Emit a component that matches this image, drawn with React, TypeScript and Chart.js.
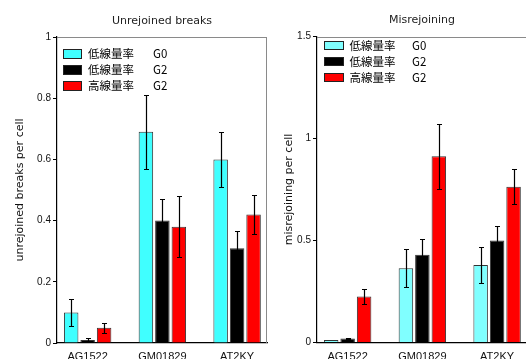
import React, { useEffect, useRef } from 'react';
import { Chart, registerables } from 'chart.js';

Chart.register(...registerables);

// ---------- data ----------
const categories = ['AG1522', 'GM01829', 'AT2KY'];
const seriesRate = ['低線量率', '低線量率', '高線量率'];
const seriesPhase = ['G0', 'G2', 'G2'];

// Unrejoined breaks per cell
const unrejoinedLowG0 = [0.10, 0.69, 0.60];
const unrejoinedLowG2 = [0.01, 0.40, 0.31];
const unrejoinedHighG2 = [0.05, 0.38, 0.42];
const unrejoinedLowG0Err = [0.045, 0.12, 0.09];
const unrejoinedLowG2Err = [0.005, 0.07, 0.055];
const unrejoinedHighG2Err = [0.016, 0.10, 0.064];

// Misrejoining per cell
const misrejoinLowG0 = [0.012, 0.364, 0.38];
const misrejoinLowG2 = [0.02, 0.43, 0.50];
const misrejoinHighG2 = [0.226, 0.913, 0.763];
const misrejoinLowG0Err = [0, 0.093, 0.09];
const misrejoinLowG2Err = [0.004, 0.077, 0.072];
const misrejoinHighG2Err = [0.036, 0.16, 0.086];

const unrejoinedTicks = [0, 0.2, 0.4, 0.6, 0.8, 1];
const misrejoinTicks = [0, 0.5, 1, 1.5];

const SANS = "'Liberation Sans', Arial, sans-serif";
const WIDE = "'DejaVu Sans', 'Liberation Sans', sans-serif";

// ---------- plugins ----------
const errorBarPlugin = {
  id: 'errorBars',
  afterDatasetsDraw(chart: any) {
    const ctx = chart.ctx;
    const yScale = chart.scales.y;
    ctx.save();
    ctx.strokeStyle = '#000';
    ctx.lineWidth = 1.2;
    chart.data.datasets.forEach((ds: any, i: number) => {
      const meta = chart.getDatasetMeta(i);
      meta.data.forEach((bar: any, j: number) => {
        const v = ds.data[j].y;
        const e = ds.errors[j];
        if (!e) return;
        const x = Math.round(bar.x) + 0.5;
        const yT = Math.round(yScale.getPixelForValue(v + e)) + 0.5;
        const yB = Math.round(yScale.getPixelForValue(v - e)) + 0.5;
        ctx.beginPath();
        ctx.moveTo(x, yT);
        ctx.lineTo(x, yB);
        ctx.moveTo(x - 2.5, yT);
        ctx.lineTo(x + 2.5, yT);
        ctx.moveTo(x - 2.5, yB);
        ctx.lineTo(x + 2.5, yB);
        ctx.stroke();
      });
    });
    ctx.restore();
  },
};

const framePlugin = {
  id: 'panelFrame',
  afterDraw(chart: any, _args: any, opts: any) {
    const { ctx, chartArea } = chart;
    ctx.save();
    ctx.strokeStyle = '#8a8a8a';
    ctx.lineWidth = 1;
    const top = Math.round(chartArea.top) + 0.5;
    ctx.beginPath();
    ctx.moveTo(chartArea.left, top);
    ctx.lineTo(chartArea.right, top);
    if (opts.drawRight) {
      const r = Math.round(chartArea.right) - 0.5;
      ctx.moveTo(r, top);
      ctx.lineTo(r, chartArea.bottom);
    }
    ctx.stroke();
    ctx.restore();
  },
};

const legendPlugin = {
  id: 'panelLegend',
  afterDraw(chart: any, _args: any, opts: any) {
    const { ctx, chartArea } = chart;
    ctx.save();
    ctx.font = "11.5px 'Noto Sans CJK JP', sans-serif";
    ctx.textBaseline = 'middle';
    ctx.fillStyle = '#000';
    chart.data.datasets.forEach((ds: any, i: number) => {
      const bx = Math.round(chartArea.left + opts.dx) + 0.5;
      const by = Math.round(chartArea.top + opts.dy + i * opts.rowH) + 0.5;
      ctx.fillStyle = ds.backgroundColor;
      ctx.fillRect(bx, by, opts.boxW, opts.boxH);
      ctx.strokeStyle = '#222';
      ctx.lineWidth = 1;
      ctx.strokeRect(bx, by, opts.boxW, opts.boxH);
      ctx.fillStyle = '#000';
      const cy = by + opts.boxH / 2;
      ctx.fillText(ds.rate, chartArea.left + opts.textDx, cy);
      ctx.fillText(ds.phase, chartArea.left + opts.phaseDx, cy);
    });
    ctx.restore();
  },
};

// ---------- chart builder ----------
function buildChart(
  canvas: HTMLCanvasElement,
  p: {
    title: string;
    yTitle: string;
    values: number[][];
    errors: number[][];
    colors: string[];
    yMax: number;
    yTicks: number[];
    axisWidth: number;
    xAxisHeight: number;
    padRight: number;
    titlePadTop: number;
    titlePadBottom: number;
    yTitlePad: number;
    drawRight: boolean;
    legend: any;
  }
) {
  const datasets = p.values.map((vals, i) => ({
    label: `${seriesRate[i]}  ${seriesPhase[i]}`,
    rate: seriesRate[i],
    phase: seriesPhase[i],
    data: vals.map((v, j) => ({ x: j, y: v })),
    errors: p.errors[i],
    backgroundColor: p.colors[i],
    borderColor: '#333333',
    borderWidth: 1,
    categoryPercentage: 0.661,
    barPercentage: 0.88,
  }));
  return new Chart(canvas, {
    type: 'bar',
    data: { datasets } as any,
    options: {
      responsive: false,
      animation: false,
      devicePixelRatio: 1,
      layout: { padding: { left: 0, right: p.padRight, top: 0, bottom: 0 } },
      font: { family: SANS },
      plugins: {
        legend: { display: false },
        tooltip: { enabled: false },
        title: {
          display: true,
          text: p.title,
          fullSize: false,
          color: '#222',
          font: { size: 11, weight: 'normal', family: WIDE },
          padding: { top: p.titlePadTop, bottom: p.titlePadBottom },
        },
        panelFrame: { drawRight: p.drawRight },
        panelLegend: p.legend,
      } as any,
      scales: {
        x: {
          type: 'linear',
          min: -0.41,
          max: 2.40,
          offset: false,
          grid: { display: false, drawTicks: false, tickLength: 0 },
          border: { display: true, color: '#000', width: 1.2 },
          afterBuildTicks: (scale: any) => {
            scale.ticks = categories.map((_, i) => ({ value: i }));
          },
          afterFit: (scale: any) => {
            scale.height = p.xAxisHeight;
          },
          ticks: {
            autoSkip: false,
            maxRotation: 0,
            padding: 7.5,
            color: '#111',
            font: { size: 11, family: SANS },
            callback: (v: any) => categories[v] ?? '',
          },
        },
        y: {
          type: 'linear',
          min: 0,
          max: p.yMax,
          afterBuildTicks: (scale: any) => {
            scale.ticks = p.yTicks.map((v) => ({ value: v }));
          },
          afterFit: (scale: any) => {
            scale.width = p.axisWidth;
          },
          grid: {
            drawOnChartArea: false,
            drawTicks: true,
            tickLength: 4,
            color: '#000',
          },
          border: { display: true, color: '#000', width: 1.2 },
          ticks: {
            padding: 2,
            color: '#111',
            font: { size: 10, family: SANS },
            callback: (v: any) => String(v),
          },
          title: {
            display: true,
            text: p.yTitle,
            color: '#111',
            font: { size: 11, family: WIDE },
            padding: { top: p.yTitlePad, bottom: 0 },
          },
        },
      } as any,
    },
    plugins: [errorBarPlugin, framePlugin, legendPlugin],
  } as any);
}

export default function App() {
  const leftRef = useRef<HTMLCanvasElement>(null);
  const rightRef = useRef<HTMLCanvasElement>(null);

  useEffect(() => {
    const left = buildChart(leftRef.current!, {
      title: 'Unrejoined breaks',
      yTitle: 'unrejoined breaks per cell',
      values: [unrejoinedLowG0, unrejoinedLowG2, unrejoinedHighG2],
      errors: [unrejoinedLowG0Err, unrejoinedLowG2Err, unrejoinedHighG2Err],
      colors: ['#40FFFF', '#000000', '#FF0000'],
      yMax: 1,
      yTicks: unrejoinedTicks,
      axisWidth: 57,
      xAxisHeight: 16,
      padRight: 3,
      titlePadTop: 14.5,
      titlePadBottom: 9.3,
      yTitlePad: 13.4,
      drawRight: true,
      legend: { dx: 6, dy: 11.5, rowH: 16, boxW: 18, boxH: 9, textDx: 31, phaseDx: 96 },
    });
    const right = buildChart(rightRef.current!, {
      title: 'Misrejoining',
      yTitle: 'misrejoining per cell',
      values: [misrejoinLowG0, misrejoinLowG2, misrejoinHighG2],
      errors: [misrejoinLowG0Err, misrejoinLowG2Err, misrejoinHighG2Err],
      colors: ['#80FFFF', '#000000', '#FF0000'],
      yMax: 1.5,
      yTicks: misrejoinTicks,
      axisWidth: 49,
      xAxisHeight: 16.5,
      padRight: 3,
      titlePadTop: 14,
      titlePadBottom: 9.3,
      yTitlePad: 14.4,
      drawRight: false,
      legend: { dx: 6.5, dy: 4, rowH: 16.3, boxW: 19, boxH: 8, textDx: 32.5, phaseDx: 95 },
    });
    return () => {
      left.destroy();
      right.destroy();
    };
  }, []);

  return (
    <div
      style={{
        position: 'fixed',
        left: 0,
        top: 0,
        width: 526,
        height: 359,
        overflow: 'hidden',
        background: '#fff',
      }}
    >
      <canvas
        ref={leftRef}
        width={270}
        height={359}
        style={{ position: 'absolute', left: 0, top: 0, width: 270, height: 359 }}
      />
      <canvas
        ref={rightRef}
        width={262}
        height={359}
        style={{ position: 'absolute', left: 268, top: 0, width: 262, height: 359 }}
      />
    </div>
  );
}
